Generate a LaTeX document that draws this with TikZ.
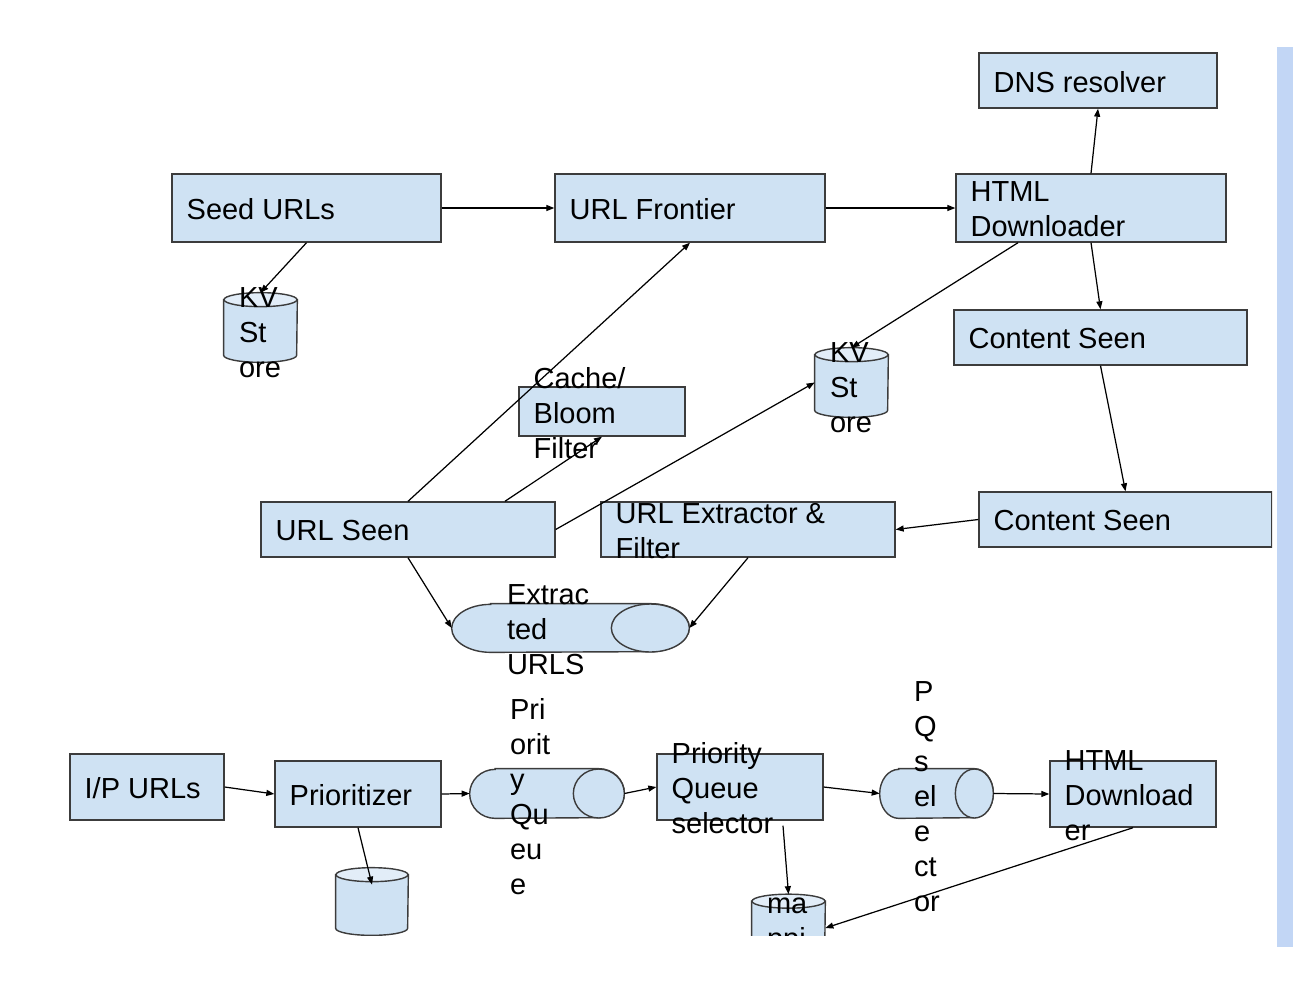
\documentclass[tikz,border=0pt]{standalone}
\usepackage{fontspec}
\setmainfont{Liberation Sans}
\usetikzlibrary{arrows.meta,positioning}
\definecolor{boxfill}{RGB}{207,226,243}
\definecolor{capfill}{RGB}{226,237,248}
\definecolor{boxline}{RGB}{60,60,60}
\definecolor{barblue}{RGB}{194,214,245}

\begin{document}
\begin{tikzpicture}[
    x=0.02cm, y=-0.02cm,
    >={Triangle[length=0.16cm,width=0.12cm]},
    box/.style={draw=boxline, fill=boxfill, line width=0.8pt, inner sep=0pt},
    cylspot/.style={rectangle, inner sep=0pt},
    cylbody/.style={draw=boxline, fill=boxfill, line width=0.8pt},
    cylcap/.style={draw=boxline, fill=capfill, line width=0.8pt},
    txt/.style={font=\fontsize{16.5pt}{19.9pt}\selectfont, align=left, inner sep=0pt,
        anchor=west, yshift=-0.03cm},
    conn/.style={->, line width=0.7pt, black},
]
\useasboundingbox (0,0) rectangle (1314,984);

% side bar
\fill[barblue] (1277,47) rectangle (1293,947);

\begin{scope}
\clip (0,0) rectangle (1272,935);

% === Crawler: top part ===
\node[box, minimum width=4.76cm, minimum height=1.1cm]  (dns)      at (1098,80.5)  {};
\node[box, minimum width=5.38cm, minimum height=1.36cm] (seed)     at (306.5,208)  {};
\node[box, minimum width=5.4cm,  minimum height=1.36cm] (frontier) at (690,208)    {};
\node[box, minimum width=5.4cm,  minimum height=1.36cm] (htmld)    at (1091,208)   {};
\node[box, minimum width=5.86cm, minimum height=1.1cm]  (cseenA)   at (1100.5,337.5) {};
\node[box, minimum width=5.86cm, minimum height=1.1cm]  (cseenB)   at (1125.5,519.5) {};
\node[box, minimum width=5.88cm, minimum height=1.1cm]  (extract)  at (748,529.5)  {};
\node[box, minimum width=5.88cm, minimum height=1.1cm]  (urlseen)  at (408,529.5)  {};
\node[box, minimum width=3.32cm, minimum height=0.98cm] (bloom)    at (602,411.5)  {};

% KV stores (vertical cylinders)
\node[cylspot, minimum width=1.46cm, minimum height=1.38cm] (kvA) at (260.5,327.5) {};
\node[cylspot, minimum width=1.46cm, minimum height=1.38cm] (kvB) at (851.5,382.5) {};
\draw[cylbody] ([yshift=-0.14cm]kvA.north west) -- ([yshift=0.14cm]kvA.south west)
    arc[start angle=180, end angle=360, x radius=0.73cm, y radius=0.14cm]
    -- ([yshift=-0.14cm]kvA.north east) -- cycle;
\draw[cylcap] ([yshift=-0.14cm]kvA.north) ellipse[x radius=0.73cm, y radius=0.14cm];
\draw[cylbody] ([yshift=-0.14cm]kvB.north west) -- ([yshift=0.14cm]kvB.south west)
    arc[start angle=180, end angle=360, x radius=0.73cm, y radius=0.14cm]
    -- ([yshift=-0.14cm]kvB.north east) -- cycle;
\draw[cylcap] ([yshift=-0.14cm]kvB.north) ellipse[x radius=0.73cm, y radius=0.14cm];

% Extracted URLs (horizontal cylinder)
\node[cylspot, minimum width=4.74cm, minimum height=0.96cm] (extr) at (570.5,628) {};
\draw[cylbody] ([xshift=0.78cm]extr.north west) -- ([xshift=-0.78cm]extr.north east)
    arc[start angle=90, end angle=-90, x radius=0.78cm, y radius=0.48cm]
    -- ([xshift=0.78cm]extr.south west)
    arc[start angle=270, end angle=90, x radius=0.78cm, y radius=0.48cm] -- cycle;
\draw[cylbody] ([xshift=-0.78cm]extr.east) ellipse[x radius=0.78cm, y radius=0.48cm];

\node[txt] (dnst)      at ([xshift=0.3cm]dns.west)      {DNS resolver};
\node[txt] (seedt)     at ([xshift=0.3cm]seed.west)     {Seed URLs};
\node[txt] (frontiert) at ([xshift=0.3cm]frontier.west) {URL Frontier};
\node[txt] (htmldt)    at ([xshift=0.3cm]htmld.west)    {HTML\\Downloader};
\node[txt] (cseenAt)   at ([xshift=0.3cm]cseenA.west)   {Content Seen};
\node[txt] (cseenBt)   at ([xshift=0.3cm]cseenB.west)   {Content Seen};
\node[txt] (extractt)  at ([xshift=0.3cm]extract.west)  {URL Extractor \&\\Filter};
\node[txt] (urlseent)  at ([xshift=0.3cm]urlseen.west)  {URL Seen};
\node[txt] (bloomt)    at ([xshift=0.3cm]bloom.west)    {Cache/\\Bloom\\Filter};
\node[txt] (kvAt)      at ([xshift=0.3cm,yshift=-0.07cm]kvA.west) {KV\\St\\ore};
\node[txt] (kvBt)      at ([xshift=0.3cm,yshift=-0.07cm]kvB.west) {KV\\St\\ore};
\node[txt] (extrt)     at ([xshift=1.1cm]extr.west)     {Extrac\\ted\\URLS};

\draw[conn] (seed) -- (frontier);
\draw[conn] (frontier) -- (htmld);
\draw[conn] (htmld.north) -- (dns.south);
\draw[conn] (htmld.south) -- (cseenA.north);
\draw[conn] (cseenA.south) -- (cseenB.north);
\draw[conn] (cseenB.west) -- (extract.east);
\draw[conn] (extract.south) -- (extr.east);
\draw[conn] (urlseen.south) -- (extr.west);
\draw[conn] (urlseen.north) -- (frontier.south);
\draw[conn] ([xshift=1.94cm]urlseen.north) -- (bloom.south);
\draw[conn] (urlseen.east) -- (kvB.west);
\draw[conn] ([xshift=-1.46cm]htmld.south) -- (kvB.north);
\draw[conn] (seed.south) -- (kvA.north);

% === Prioritizer part ===
\node[box, minimum width=3.08cm, minimum height=1.32cm] (ipurls) at (147,787)  {};
\node[box, minimum width=3.32cm, minimum height=1.32cm] (prio)   at (358,794)  {};
\node[box, minimum width=3.32cm, minimum height=1.32cm] (pqsel)  at (740,787)  {};
\node[box, minimum width=3.32cm, minimum height=1.32cm] (htmldB) at (1133,794) {};

% queues (horizontal cylinders)
\node[cylspot, minimum width=3.08cm, minimum height=0.98cm] (pq)  at (547,793.5)   {};
\node[cylspot, minimum width=2.26cm, minimum height=0.98cm] (pqs) at (936.5,793.5) {};
\draw[cylbody] ([xshift=0.51cm]pq.north west) -- ([xshift=-0.51cm]pq.north east)
    arc[start angle=90, end angle=-90, x radius=0.51cm, y radius=0.49cm]
    -- ([xshift=0.51cm]pq.south west)
    arc[start angle=270, end angle=90, x radius=0.51cm, y radius=0.49cm] -- cycle;
\draw[cylbody] ([xshift=-0.51cm]pq.east) ellipse[x radius=0.51cm, y radius=0.49cm];
\draw[cylbody] ([xshift=0.38cm]pqs.north west) -- ([xshift=-0.38cm]pqs.north east)
    arc[start angle=90, end angle=-90, x radius=0.38cm, y radius=0.49cm]
    -- ([xshift=0.38cm]pqs.south west)
    arc[start angle=270, end angle=90, x radius=0.38cm, y radius=0.49cm] -- cycle;
\draw[cylbody] ([xshift=-0.38cm]pqs.east) ellipse[x radius=0.38cm, y radius=0.49cm];

% stores (vertical cylinders)
\node[cylspot, minimum width=1.44cm, minimum height=1.34cm] (db)  at (372,901.5) {};
\node[cylspot, minimum width=1.46cm, minimum height=1.34cm] (map) at (788.5,928) {};
\draw[cylbody] ([yshift=-0.14cm]db.north west) -- ([yshift=0.14cm]db.south west)
    arc[start angle=180, end angle=360, x radius=0.72cm, y radius=0.14cm]
    -- ([yshift=-0.14cm]db.north east) -- cycle;
\draw[cylcap] ([yshift=-0.14cm]db.north) ellipse[x radius=0.72cm, y radius=0.14cm];
\draw[cylbody] ([yshift=-0.14cm]map.north west) -- ([yshift=0.14cm]map.south west)
    arc[start angle=180, end angle=360, x radius=0.73cm, y radius=0.14cm]
    -- ([yshift=-0.14cm]map.north east) -- cycle;
\draw[cylcap] ([yshift=-0.14cm]map.north) ellipse[x radius=0.73cm, y radius=0.14cm];

\node[txt] (ipurlst) at ([xshift=0.3cm]ipurls.west) {I/P URLs};
\node[txt] (priot)   at ([xshift=0.3cm]prio.west)   {Prioritizer};
\node[txt] (pqselt)  at ([xshift=0.3cm]pqsel.west)  {Priority\\Queue\\selector};
\node[txt] (htmldBt) at ([xshift=0.3cm]htmldB.west) {HTML\\Download\\er};
\node[txt] (pqt)     at ([xshift=0.8cm,yshift=-0.04cm]pq.west)   {Pri\\orit\\y\\Qu\\eu\\e};
\node[txt] (pqst)    at ([xshift=0.68cm,yshift=-0.03cm]pqs.west) {P\\Q\\s\\el\\e\\ct\\or};
\node[txt] (mapt)    at ([xshift=0.3cm,yshift=-0.28cm]map.west)  {ma\\ppi\\ng};

\draw[conn] (ipurls.east) -- (prio.west);
\draw[conn] (prio.east) -- (pq.west);
\draw[conn] (prio.south) -- ([yshift=-0.34cm]db.north);
\draw[conn] (pq.east) -- (pqsel.west);
\draw[conn] (pqsel.east) -- (pqs.west);
\draw[conn] (pqs.east) -- (htmldB.west);
\draw[conn] ([xshift=0.86cm,yshift=-0.1cm]pqsel.south) -- (map.north);
\draw[conn] (htmldB.south) -- (map.east);
\end{scope}

\end{tikzpicture}
\end{document}
